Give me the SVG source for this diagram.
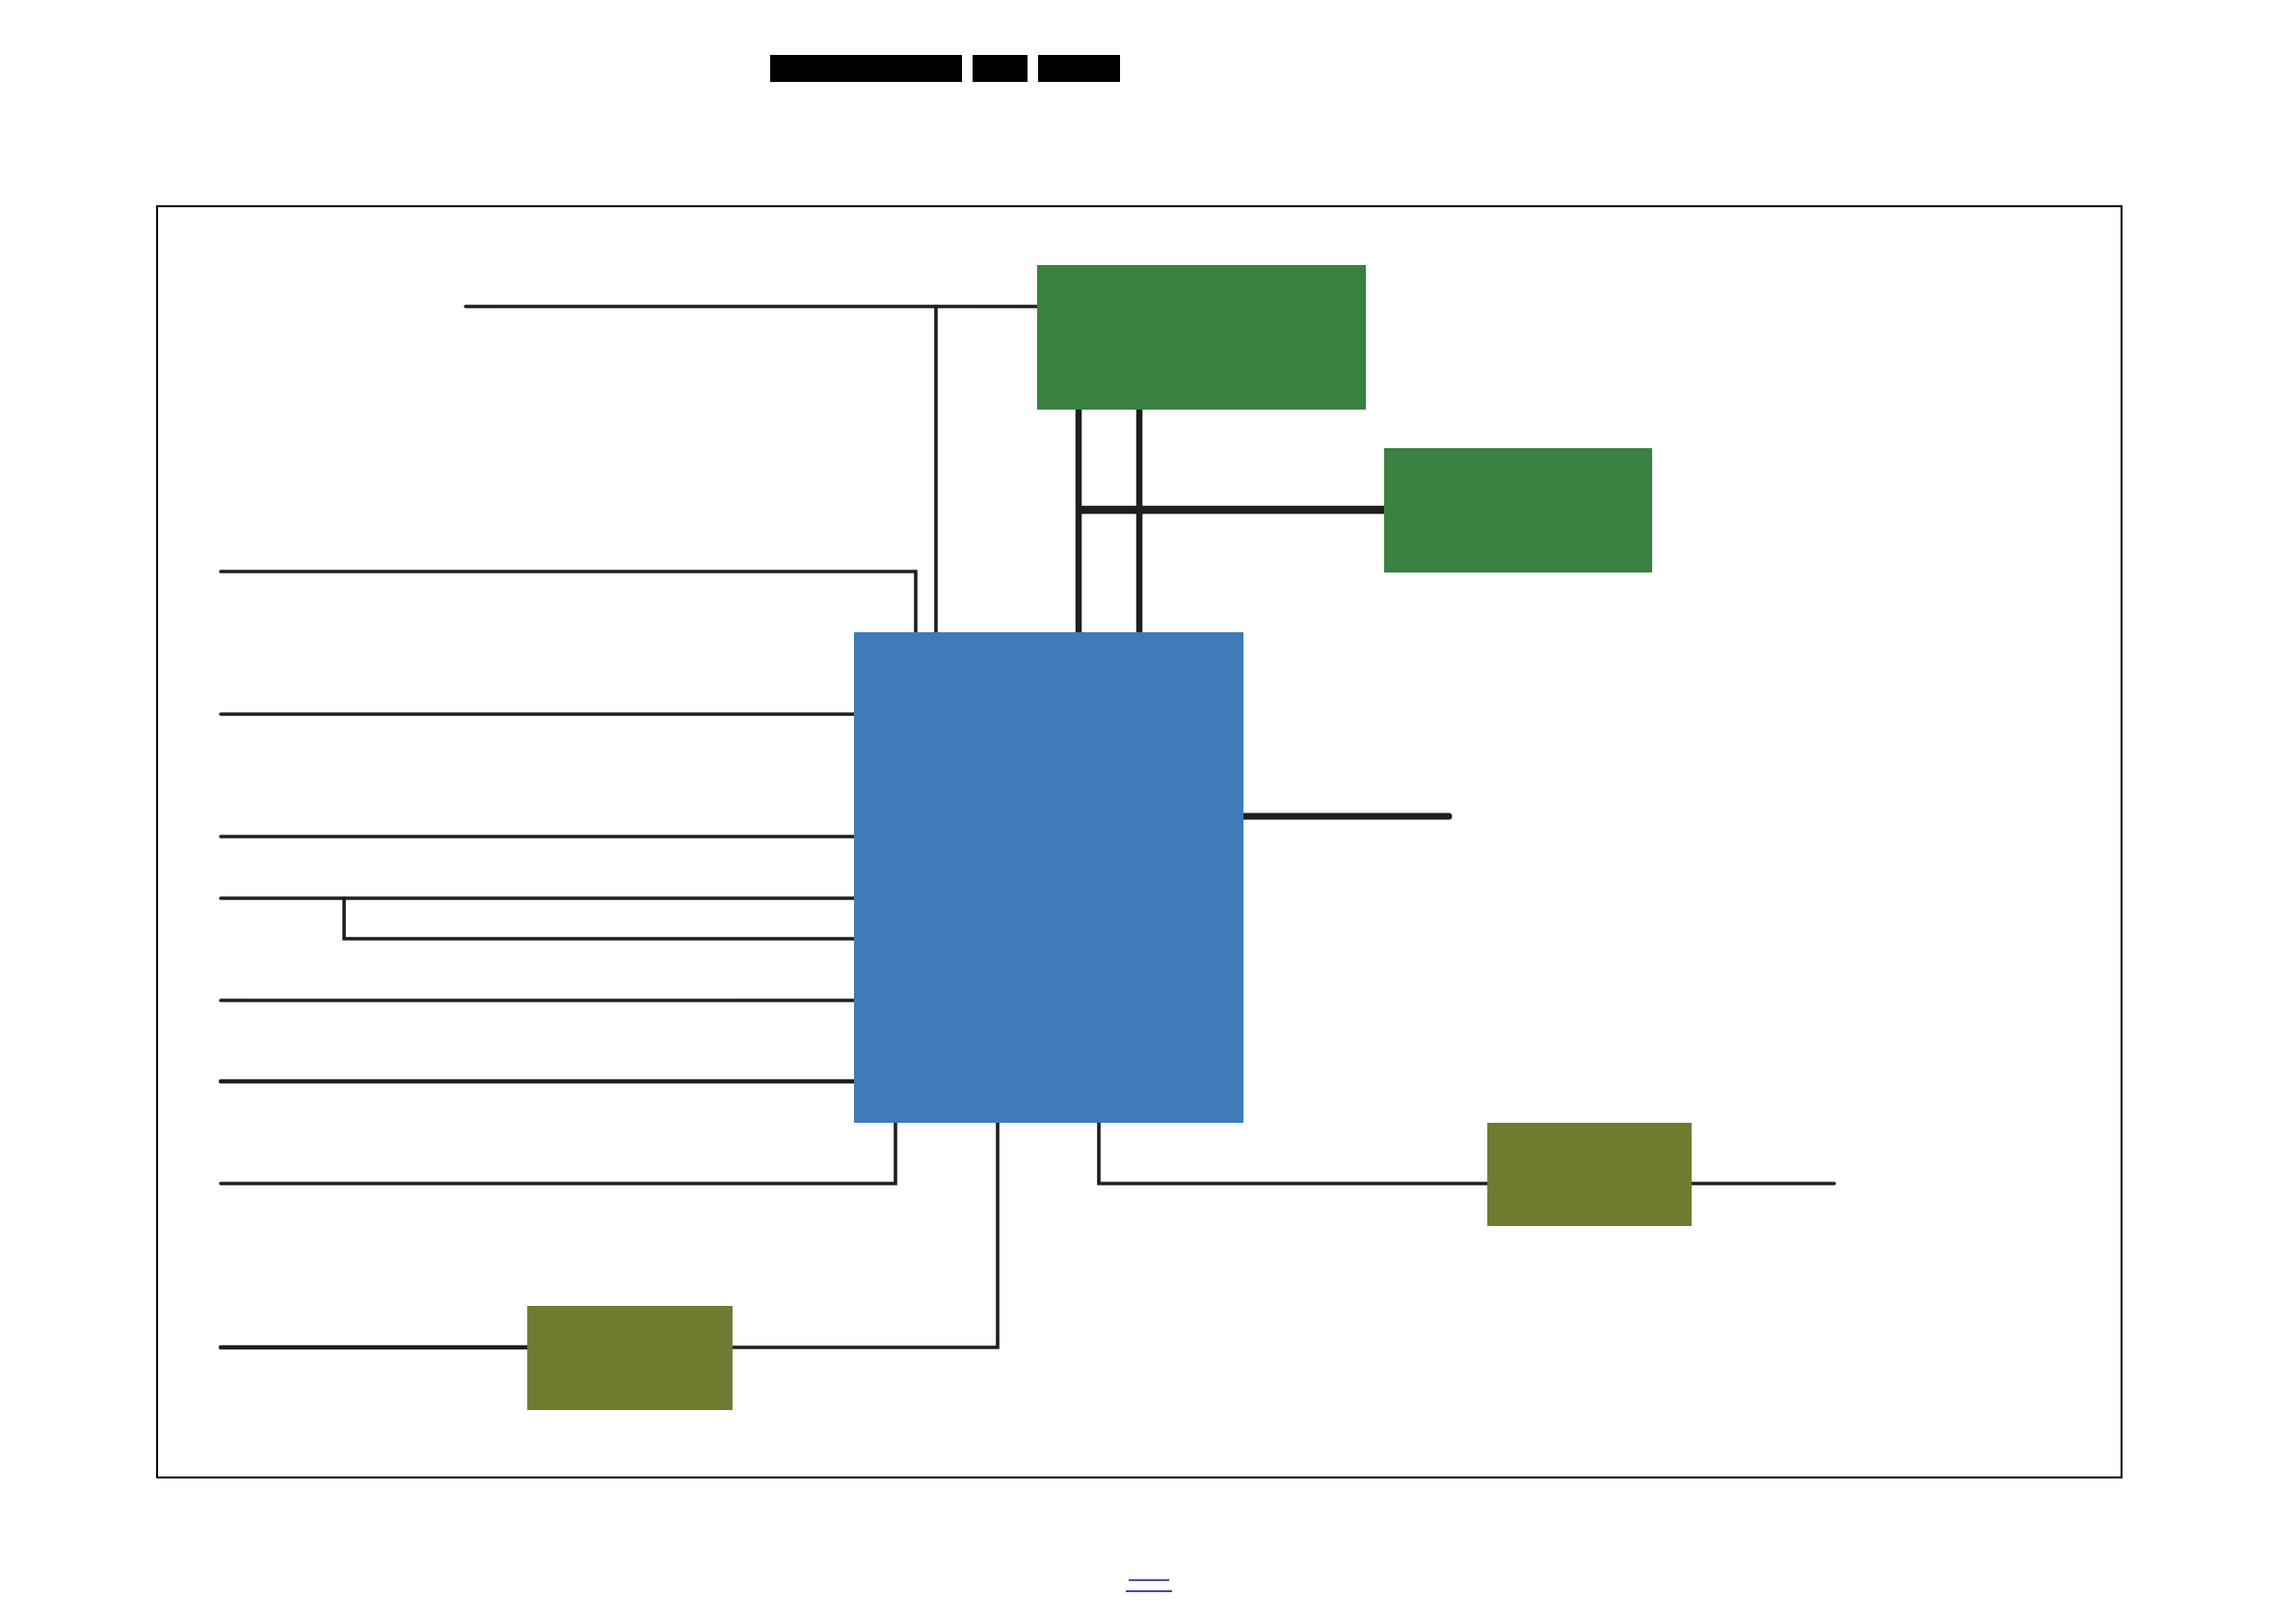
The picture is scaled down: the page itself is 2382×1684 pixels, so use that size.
<svg xmlns="http://www.w3.org/2000/svg" width="2382" height="1684" viewBox="0 0 2382 1684">
<style>
.ln{fill:none;stroke:#1f1f1f;stroke-width:3.6;stroke-linecap:round;stroke-linejoin:miter}
.thk{fill:none;stroke:#1f1f1f;stroke-width:6.5;stroke-linecap:round}
.grn{fill:#398140}
.blu{fill:#3f7bb9}
.olv{fill:#6f7c30}
.bar{fill:#000}
</style>
<rect width="2382" height="1684" fill="#fff"/>
<g id="title">
<rect class="bar" x="799" y="57" width="199" height="28"/>
<rect class="bar" x="1009" y="57" width="57" height="28"/>
<rect class="bar" x="1077" y="57" width="85" height="28"/>
</g>
<rect id="frame" x="163" y="214" width="2038" height="1319" fill="none" stroke="#000" stroke-width="2"/>
<g id="connectors">
<path class="ln" d="M483,318 H1076"/>
<path class="ln" d="M971,318 V656"/>
<path class="ln" d="M229,593 H950 V656"/>
<path class="ln" d="M229,741 H886"/>
<path class="ln" d="M229,868 H886"/>
<path class="ln" d="M229,932 H886"/>
<path class="ln" d="M357,932 V974 H886"/>
<path class="ln" d="M229,1038 H886"/>
<path class="ln" d="M229,1122 H886" style="stroke-width:4.4"/>
<path class="ln" d="M229,1228 H929 V1165"/>
<path class="ln" d="M1035,1165 V1398 H759"/>
<path class="ln" d="M229,1398 H547" style="stroke-width:4.4"/>
<path class="ln" d="M1140,1165 V1228 H1543"/>
<path class="ln" d="M1754,1228 H1903"/>
<path class="thk" d="M1119,425 V657"/>
<path class="thk" d="M1182,425 V657"/>
<path d="M1119,529 H1436" fill="none" stroke="#1f1f1f" stroke-width="8.5"/>
<path d="M1288,847 H1503" fill="none" stroke="#1f1f1f" stroke-width="7" stroke-linecap="round"/>
</g>
<g id="green1"><rect class="grn" x="1076" y="275" width="341" height="150"/></g>
<g id="green2"><rect class="grn" x="1436" y="465" width="278" height="129"/></g>
<g id="cpu"><rect class="blu" x="886" y="656" width="404" height="509"/></g>
<g id="olive1"><rect class="olv" x="1543" y="1165" width="212" height="107"/></g>
<g id="olive2"><rect class="olv" x="547" y="1355" width="213" height="108"/></g>
<g id="footer">
<line x1="1171" y1="1639.5" x2="1213" y2="1639.5" stroke="#0c0c80" stroke-width="1.6"/>
<line x1="1168" y1="1651" x2="1216" y2="1651" stroke="#0c0c80" stroke-width="1.6"/>
</g>
</svg>
